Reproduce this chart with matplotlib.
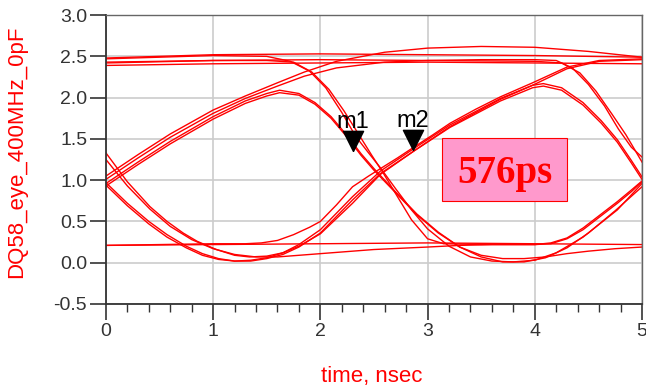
import matplotlib
matplotlib.use("Agg")
import matplotlib.pyplot as plt
from matplotlib.patches import Rectangle

plt.rcParams['font.family'] = ['Liberation Sans', 'DejaVu Sans']

# steady high / low levels
t_flat = [0, 1, 2, 3, 4, 5]
v_high1 = [2.48, 2.52, 2.53, 2.52, 2.51, 2.49]
v_high2 = [2.39, 2.41, 2.42, 2.43, 2.42, 2.41]
v_low = [0.21, 0.22, 0.23, 0.24, 0.23, 0.22]

# falls at t=0 -> valley -> rise -> hold high
t_a = [0, 0.2, 0.41, 0.57, 0.72, 0.85, 1.03, 1.2, 1.34, 1.5, 1.65, 1.8, 2.0, 2.3, 2.56, 2.88, 3.21, 3.68, 3.98, 4.3, 4.6, 5.0]
v_a = [1.33, 0.98, 0.68, 0.50, 0.36, 0.26, 0.16, 0.09, 0.07, 0.08, 0.12, 0.20, 0.35, 0.72, 1.07, 1.36, 1.65, 1.98, 2.15, 2.35, 2.44, 2.46]

# fall at t=0 -> valley -> slow recovery -> low -> rise
t_b = [0, 0.2, 0.41, 0.6, 0.8, 1.0, 1.2, 1.4, 1.6, 2.0, 2.5, 3.0, 3.3, 3.6, 4.0, 4.15, 4.3, 4.45, 4.6, 4.77, 4.9, 5.0]
v_b = [1.25, 0.93, 0.65, 0.44, 0.28, 0.17, 0.10, 0.07, 0.07, 0.11, 0.16, 0.19, 0.21, 0.22, 0.22, 0.23, 0.29, 0.40, 0.55, 0.72, 0.86, 0.98]

# fall at t=0 -> valley -> rise -> hump
t_c = [0, 0.2, 0.4, 0.57, 0.75, 0.9, 1.05, 1.2, 1.35, 1.5, 1.65, 1.8, 2.0, 2.3, 2.56, 2.88, 3.21, 3.68, 3.98, 4.08, 4.25, 4.45, 4.62, 4.77, 4.9, 5.0]
v_c1 = [0.97, 0.72, 0.50, 0.34, 0.20, 0.11, 0.05, 0.02, 0.03, 0.06, 0.12, 0.22, 0.40, 0.80, 1.11, 1.39, 1.67, 1.99, 2.15, 2.17, 2.12, 1.94, 1.72, 1.49, 1.24, 1.04]
v_c2 = [0.94, 0.69, 0.47, 0.31, 0.18, 0.09, 0.04, 0.02, 0.02, 0.05, 0.10, 0.19, 0.36, 0.76, 1.08, 1.36, 1.64, 1.96, 2.12, 2.14, 2.09, 1.91, 1.69, 1.46, 1.21, 1.01]

# low -> rise -> hold high
t_d = [0, 0.5, 1.0, 1.3, 1.45, 1.6, 1.75, 1.9, 2.0, 2.15, 2.3, 2.45, 2.56, 2.72, 2.86, 3.05, 3.21, 3.45, 3.68, 3.98, 4.3, 4.6, 5.0]
v_d = [0.21, 0.22, 0.23, 0.23, 0.24, 0.27, 0.34, 0.43, 0.50, 0.70, 0.92, 1.05, 1.14, 1.27, 1.39, 1.55, 1.69, 1.86, 2.01, 2.18, 2.37, 2.45, 2.47]

# rises at t=0 -> overshoot arc / hold then fall
t_e = [0, 0.3, 0.6, 1.0, 1.3, 1.6, 1.85, 2.15, 2.6, 3.0, 3.5, 4.0, 4.5, 5.0]
v_e = [1.05, 1.31, 1.56, 1.85, 2.02, 2.18, 2.31, 2.44, 2.55, 2.60, 2.62, 2.61, 2.56, 2.49]
t_f = [0, 0.3, 0.6, 1.0, 1.3, 1.6, 1.85, 2.15, 2.6, 3.0, 3.5, 4.0, 4.2, 4.35, 4.5, 4.65, 4.78, 4.9, 5.0]
v_f = [1.01, 1.27, 1.52, 1.81, 1.99, 2.14, 2.26, 2.36, 2.43, 2.45, 2.46, 2.46, 2.45, 2.36, 2.16, 1.90, 1.62, 1.40, 1.28]
t_l = [0, 1, 2, 3, 4.0, 4.25, 4.42, 4.57, 4.72, 4.85, 5.0]
v_l = [2.43, 2.45, 2.46, 2.45, 2.44, 2.42, 2.30, 2.08, 1.80, 1.55, 1.22]

# hump 0-1-0
t_g = [0, 0.3, 0.6, 1.0, 1.3, 1.5, 1.62, 1.8, 1.95, 2.1, 2.25, 2.38, 2.5, 2.7, 2.9, 3.1, 3.3, 3.5, 3.7, 3.9, 4.1, 4.3, 4.5, 4.75, 5.0]
v_g1 = [0.96, 1.22, 1.47, 1.77, 1.96, 2.05, 2.09, 2.05, 1.94, 1.77, 1.54, 1.32, 1.14, 0.86, 0.59, 0.37, 0.19, 0.07, 0.01, 0.01, 0.06, 0.18, 0.36, 0.63, 0.92]
v_g2 = [0.93, 1.19, 1.44, 1.74, 1.93, 2.02, 2.06, 2.03, 1.92, 1.75, 1.52, 1.30, 1.12, 0.85, 0.58, 0.36, 0.19, 0.09, 0.05, 0.05, 0.07, 0.11, 0.14, 0.17, 0.19]

# high -> fall -> valley / low
t_i = [0, 1, 1.5, 1.72, 1.9, 2.05, 2.2, 2.33, 2.45, 2.56, 2.7, 2.85, 3.0, 3.2, 3.4, 3.6, 3.8, 4.0, 4.2, 4.45, 4.77, 5.0]
v_i = [2.47, 2.51, 2.50, 2.44, 2.32, 2.12, 1.82, 1.53, 1.33, 1.15, 0.90, 0.64, 0.41, 0.20, 0.07, 0.02, 0.01, 0.03, 0.12, 0.31, 0.64, 0.96]
t_j = [0, 1, 1.5, 1.75, 1.92, 2.08, 2.22, 2.36, 2.48, 2.58, 2.71, 2.85, 3.0, 3.15, 3.5, 4.0, 4.15, 4.3, 4.45, 4.6, 4.77, 4.9, 5.0]
v_j = [2.42, 2.45, 2.45, 2.43, 2.31, 2.10, 1.84, 1.55, 1.30, 1.10, 0.82, 0.52, 0.29, 0.23, 0.22, 0.22, 0.24, 0.30, 0.42, 0.57, 0.74, 0.88, 0.99]

traces = [
    (t_flat, v_high1), (t_flat, v_high2), (t_flat, v_low),
    (t_a, v_a), (t_b, v_b), (t_c, v_c1), (t_c, v_c2), (t_d, v_d),
    (t_e, v_e), (t_f, v_f), (t_l, v_l), (t_g, v_g1), (t_g, v_g2),
    (t_i, v_i), (t_j, v_j),
]

markers = ['m1', 'm2']
marker_t = [2.30, 2.86]
marker_v = [1.35, 1.37]

fig = plt.figure(figsize=(6.46, 3.92), dpi=100)
ax = fig.add_axes([0.164, 0.2245, 0.8298, 0.737])

for t, v in traces:
    ax.plot(t, v, color='#ff0000', lw=1.0, zorder=2)

# downward triangle with its tip on the marked point
tri = [(0, 0), (-0.5, 1), (0.5, 1), (0, 0)]
ax.plot(marker_t, marker_v, linestyle='none', marker=tri, markersize=29,
        color='black', zorder=4)
for name, t, v in zip(markers, marker_t, marker_v):
    ax.annotate(name, (t, v), xytext=(0, 16.5), textcoords='offset points',
                ha='center', va='baseline', fontsize=17, color='black', zorder=5)

ax.add_patch(Rectangle((0.627, 0.356), 0.233, 0.218, transform=ax.transAxes,
                       facecolor='#ff99cc', edgecolor='#ff0000', lw=0.8, zorder=5))
ax.text(0.7435, 0.419, '576ps', transform=ax.transAxes, ha='center', va='baseline',
        fontsize=28, fontweight='bold', family='Liberation Serif', color='#ff0000', zorder=6)

ax.set_xlim(0, 5)
ax.set_ylim(-0.5, 3.0)
ax.set_xticks([0, 1, 2, 3, 4, 5])
ax.set_xticks([i * 0.2 for i in range(26)], minor=True)
ax.set_yticks([-0.5, 0.0, 0.5, 1.0, 1.5, 2.0, 2.5, 3.0])
ax.set_yticklabels(['-0.5', '0.0', '0.5', '1.0', '1.5', '2.0', '2.5', '3.0'])
ax.tick_params(which='major', direction='out', length=11.5, width=1.2,
               color='#333333', labelcolor='#333333', labelsize=14, pad=2)
ax.tick_params(which='minor', direction='out', length=6, width=1.0, color='#333333')
ax.tick_params(axis='y', which='minor', length=0)
ax.grid(True, which='major', color='#cccccc', lw=1.2)
ax.set_axisbelow(True)

for side in ['left', 'bottom']:
    ax.spines[side].set_color('#333333')
    ax.spines[side].set_linewidth(1.3)
for side in ['top', 'right']:
    ax.spines[side].set_color('#666666')
    ax.spines[side].set_linewidth(1.0)

ax.set_ylabel('DQ58_eye_400MHz_0pF', color='#ff0000', fontsize=16)
ax.yaxis.set_label_coords(-0.147, 0.526)
ax.set_xlabel('time, nsec', color='#ff0000', fontsize=16)
ax.xaxis.set_label_coords(0.496, -0.215)

fig.savefig('out.png', dpi=100)
